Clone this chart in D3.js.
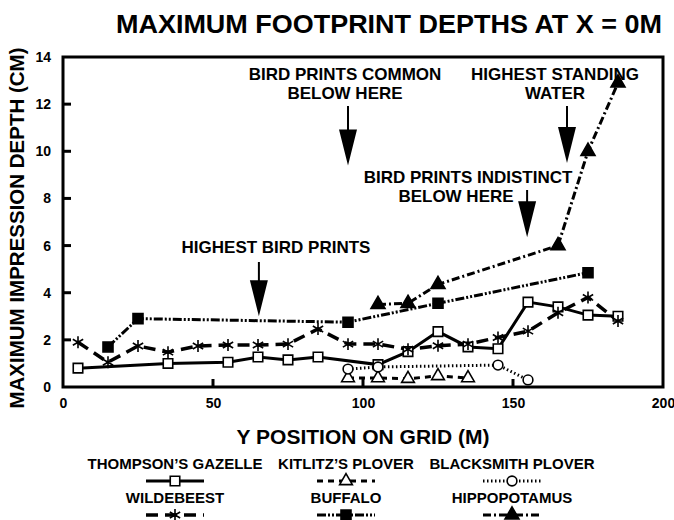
<!DOCTYPE html>
<html>
<head>
<meta charset="utf-8">
<script src="https://cdn.jsdelivr.net/npm/d3@7"></script>
<style>
body { margin: 0; background: #fff; }
text { font-family: "Liberation Sans", Arial, sans-serif; font-weight: bold; fill: #000; }
</style>
</head>
<body>
<div id="chart"></div>
<script>
var width = 674, height = 520
const margin = {top: 57, right: 11, bottom: 132, left: 63}

// values (x = Y position on grid, m ; y = depth, cm)
var gazelleX = [5, 35, 55, 65, 75, 85, 105, 115, 125, 135, 145, 155, 165, 175, 185]
var gazelleY = [0.8, 1.0, 1.05, 1.27, 1.15, 1.27, 0.95, 1.5, 2.35, 1.7, 1.62, 3.6, 3.4, 3.05, 3.0]
var kitlitzX = [95, 105, 115, 125, 135]
var kitlitzY = [0.38, 0.38, 0.35, 0.47, 0.38]
var blacksmithX = [95, 105, 145, 155]
var blacksmithY = [0.76, 0.85, 0.93, 0.3]
var wildebeestX = [5, 15, 25, 35, 45, 55, 65, 75, 85, 95, 105, 115, 125, 135, 145, 155, 165, 175, 185]
var wildebeestY = [1.9, 1.05, 1.74, 1.48, 1.74, 1.78, 1.78, 1.82, 2.46, 1.82, 1.82, 1.6, 1.75, 1.82, 2.1, 2.37, 3.15, 3.8, 2.8]
var buffaloX = [15, 25, 95, 125, 175]
var buffaloY = [1.7, 2.9, 2.75, 3.55, 4.85]
var hippoX = [105, 115, 125, 165, 175, 185]
var hippoY = [3.5, 3.55, 4.35, 6.0, 10.0, 12.9]

var xTicks = [0, 50, 100, 150, 200]
var yTicks = [0, 2, 4, 6, 8, 10, 12, 14]

var series = [
    {name: "THOMPSON\u2019S GAZELLE", x: gazelleX, y: gazelleY, dash: null, sw: 3, sym: d3.symbolSquare, size: 90, fill: "#fff"},
    {name: "KITLITZ\u2019S PLOVER", x: kitlitzX, y: kitlitzY, dash: "6,5", sw: 3, sym: d3.symbolTriangle, size: 70, fill: "#fff"},
    {name: "BLACKSMITH PLOVER", x: blacksmithX, y: blacksmithY, dash: "1.5,2.5", sw: 3, sym: d3.symbolCircle, size: 75, fill: "#fff"},
    {name: "WILDEBEEST", x: wildebeestX, y: wildebeestY, dash: "12,7", sw: 3.5, sym: d3.symbolAsterisk, size: 100, fill: "none"},
    {name: "BUFFALO", x: buffaloX, y: buffaloY, dash: "9,2,2,2,2,2", sw: 3, sym: d3.symbolSquare, size: 100, fill: "#000"},
    {name: "HIPPOPOTAMUS", x: hippoX, y: hippoY, dash: "8,3,2,3", sw: 3, sym: d3.symbolTriangle, size: 85, fill: "#000"}
]

// annotation arrows, tip given in data units, text centres per line
var notes = [
    {lines: ["BIRD PRINTS COMMON", "BELOW HERE"], tx: 95, tip: 9.4, textX: [94, 94], textY: 80, top: 106},
    {lines: ["HIGHEST STANDING", "WATER"], tx: 168, tip: 9.5, textX: [164, 164], textY: 80, top: 106},
    {lines: ["BIRD PRINTS INDISTINCT", "BELOW HERE"], tx: 154.7, tip: 6.35, textX: [135, 131], textY: 183, top: 190},
    {lines: ["HIGHEST BIRD PRINTS"], tx: 65.3, tip: 3.0, textX: [71], textY: 253, top: 262}
]

var svg = d3.select("#chart").append("svg")
    .attr("width", width)
    .attr("height", height)
    .attr("display", "block")

var xScale = d3.scaleLinear().domain([0, 200]).range([margin.left, width - margin.right])
var yScale = d3.scaleLinear().domain([0, 14]).range([height - margin.bottom - 1, margin.top])

// title
svg.append("text")
    .attr("x", 389).attr("y", 33)
    .attr("text-anchor", "middle")
    .attr("textLength", 546).attr("lengthAdjust", "spacingAndGlyphs")
    .style("font-size", "26px")
    .text("MAXIMUM FOOTPRINT DEPTHS AT X = 0M")

// frame
svg.append("rect")
    .attr("x", xScale(0)).attr("y", yScale(14))
    .attr("width", xScale(200) - xScale(0))
    .attr("height", yScale(0) - yScale(14))
    .attr("fill", "none").attr("stroke", "#000").attr("stroke-width", 3)

// axes (ticks inside)
var xAxis = d3.axisBottom(xScale).tickValues(xTicks).tickSize(0).tickPadding(11).tickFormat(d3.format("d"))
var gx = svg.append("g").attr("transform", "translate(0," + yScale(0) + ")").call(xAxis)
gx.select(".domain").remove()
gx.selectAll("text").style("font-size", "14px").attr("fill", "#000")

var yAxis = d3.axisLeft(yScale).tickValues(yTicks).tickSize(0).tickPadding(12).tickFormat(d3.format("d"))
var gy = svg.append("g").attr("transform", "translate(" + xScale(0) + ",0)").call(yAxis)
gy.select(".domain").remove()
gy.selectAll("text").style("font-size", "14px").attr("fill", "#000")

svg.selectAll(".xtick").data([50, 100, 150]).enter().append("line")
    .attr("x1", d => xScale(d)).attr("x2", d => xScale(d))
    .attr("y1", yScale(0)).attr("y2", yScale(0) - 8)
    .attr("stroke", "#000").attr("stroke-width", 3)
svg.selectAll(".ytick").data(yTicks.slice(1, -1)).enter().append("line")
    .attr("x1", xScale(0)).attr("x2", xScale(0) + 8)
    .attr("y1", d => yScale(d)).attr("y2", d => yScale(d))
    .attr("stroke", "#000").attr("stroke-width", 3)

// axis titles
svg.append("text")
    .attr("x", (xScale(0) + xScale(200)) / 2).attr("y", 444)
    .attr("text-anchor", "middle")
    .style("font-size", "21px")
    .text("Y POSITION ON GRID (M)")
svg.append("text")
    .attr("transform", "translate(24," + 228 + ") rotate(-90)")
    .attr("text-anchor", "middle")
    .style("font-size", "20.5px")
    .text("MAXIMUM IMPRESSION DEPTH (CM)")

// series
var line = d3.line().x(d => xScale(d[0])).y(d => yScale(d[1]))
series.forEach(function(s) {
    var pts = s.x.map((v, i) => [v, s.y[i]])
    svg.append("path")
        .attr("d", line(pts))
        .attr("fill", "none").attr("stroke", "#000")
        .attr("stroke-width", s.sw)
        .attr("stroke-dasharray", s.dash)
    s.pts = pts
})
series.forEach(function(s) {
    svg.selectAll(null).data(s.pts).enter().append("path")
        .attr("transform", d => "translate(" + xScale(d[0]) + "," + yScale(d[1]) + ")")
        .attr("d", d3.symbol().type(s.sym).size(s.size))
        .attr("fill", s.fill).attr("stroke", "#000").attr("stroke-width", 1.6)
})

// annotations
notes.forEach(function(n) {
    var t = svg.append("text")
        .attr("text-anchor", "middle")
        .style("font-size", "17px")
    n.lines.forEach(function(l, i) {
        t.append("tspan").attr("x", xScale(n.textX[i])).attr("y", n.textY + i * 19).text(l)
    })
    var ax = xScale(n.tx), tipY = yScale(n.tip)
    svg.append("line")
        .attr("x1", ax).attr("x2", ax).attr("y1", n.top).attr("y2", tipY - 30)
        .attr("stroke", "#000").attr("stroke-width", 2)
    svg.append("path")
        .attr("d", "M" + (ax - 9) + "," + (tipY - 36) + "L" + (ax + 9) + "," + (tipY - 36) + "L" + ax + "," + tipY + "Z")
        .attr("fill", "#000")
})

// legend
var legendCols = [175, 346, 512]
var legendRows = [469, 503]
series.forEach(function(s, i) {
    var cx = legendCols[i % 3], ry = legendRows[Math.floor(i / 3)]
    svg.append("text")
        .attr("x", cx).attr("y", ry)
        .attr("text-anchor", "middle")
        .style("font-size", "15px")
        .text(s.name)
    svg.append("line")
        .attr("x1", cx - 29).attr("x2", cx + 29)
        .attr("y1", ry + 12).attr("y2", ry + 12)
        .attr("stroke", "#000").attr("stroke-width", s.sw)
        .attr("stroke-dasharray", s.dash)
    svg.append("path")
        .attr("transform", "translate(" + cx + "," + (ry + 12) + ")")
        .attr("d", d3.symbol().type(s.sym).size(s.size))
        .attr("fill", s.fill).attr("stroke", "#000").attr("stroke-width", 1.6)
})
</script>
</body>
</html>
